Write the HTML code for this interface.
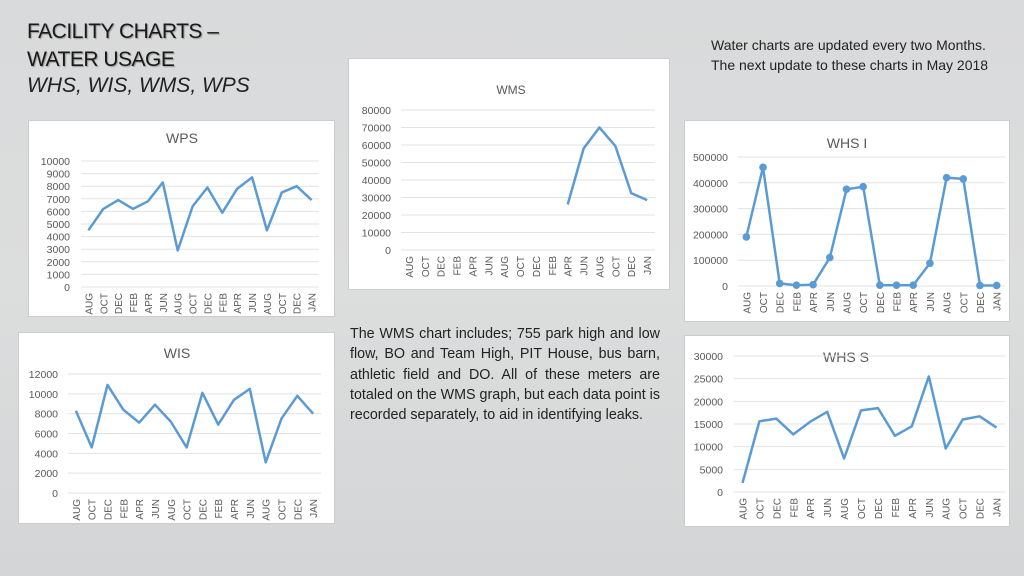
<!DOCTYPE html>
<html><head><meta charset="utf-8">
<style>
body{margin:0;width:1024px;height:576px;overflow:hidden;background:linear-gradient(180deg,#d9dadb 0%,#dcdddd 50%,#d4d5d6 100%);font-family:"Liberation Sans",sans-serif;position:relative}
.t{position:absolute;color:#222}
.panel{position:absolute;background:#fff;border:1px solid #ccc}
svg text{font-family:"Liberation Sans",sans-serif}
</style></head><body>
<div class="t" style="left:27px;top:18px;font-size:21px;line-height:28px;color:#1a1a1a;text-shadow:1px 1px 1px #999;letter-spacing:-0.5px">FACILITY CHARTS –<br>WATER USAGE</div>
<div class="t" style="left:27px;top:74px;font-size:21px;font-style:italic;color:#222">WHS, WIS, WMS, WPS</div>
<div class="t" style="left:711px;top:35px;font-size:14px;line-height:20px;width:300px">Water charts are updated every two Months. The next update to these charts in May 2018</div>
<div class="t" style="left:350px;top:324px;width:310px;font-size:14.3px;line-height:20.3px;text-align:justify">The WMS chart includes; 755 park high and low flow, BO and Team High, PIT House, bus barn, athletic field and DO. All of these meters are totaled on the WMS graph, but each data point is recorded separately, to aid in identifying leaks.</div>
<div id="charts"></div>
<script>
const categories=["AUG","OCT","DEC","FEB","APR","JUN","AUG","OCT","DEC","FEB","APR","JUN","AUG","OCT","DEC","JAN"];
const wpsValues=[4500,6200,6900,6200,6800,8300,2900,6400,7900,5900,7800,8700,4500,7500,8000,6900];
const wmsValues=[null,null,null,null,null,null,null,null,null,null,26000,58000,70000,59500,32500,28500];
const whsIValues=[190000,460000,10000,3000,5000,110000,375000,385000,3000,3000,3000,88000,420000,415000,2000,2000];
const wisValues=[8300,4600,10900,8400,7100,8900,7200,4600,10100,6900,9400,10500,3100,7500,9800,8000];
const whsSValues=[2000,15600,16200,12700,15500,17700,7400,18000,18500,12400,14500,25500,9600,16000,16700,14200];
const wpsTicks=[0,1000,2000,3000,4000,5000,6000,7000,8000,9000,10000];
const wmsTicks=[0,10000,20000,30000,40000,50000,60000,70000,80000];
const whsITicks=[0,100000,200000,300000,400000,500000];
const wisTicks=[0,2000,4000,6000,8000,10000,12000];
const whsSTicks=[0,5000,10000,15000,20000,25000,30000];

const NS="http://www.w3.org/2000/svg";
function mk(tag,attrs,parent){const e=document.createElementNS(NS,tag);for(const k in attrs)e.setAttribute(k,attrs[k]);parent.appendChild(e);return e;}
function chart(c){
  const div=document.createElement('div');
  div.className='panel';
  
  
  div.style.left=c.px+'px';div.style.top=c.py+'px';div.style.width=c.pw+'px';div.style.height=c.ph+'px';
  document.getElementById('charts').appendChild(div);
  const svg=mk('svg',{width:c.pw,height:c.ph},div);
  const ox=c.px,oy=c.py;
  const yMax=c.ticks[c.ticks.length-1];
  const y=v=>c.y0-(v/yMax)*(c.y0-c.yTop)-oy;
  const w=(c.x1-c.x0)/categories.length;
  const x=i=>c.x0+w*(i+0.5)-ox;
  const t=mk('text',{x:c.tx-ox,y:c.ty-oy,'text-anchor':'middle','font-size':c.tfs||14,fill:'#595959'},svg);
  t.textContent=c.title;
  
  
  c.ticks.forEach(v=>{
    const g=mk('line',{x1:c.x0-ox,x2:c.x1-ox,y1:y(v),y2:y(v),stroke:'#e3e3e3','stroke-width':1},svg);
    
    
    const l=mk('text',{x:c.lx-ox,y:y(v)+4,'text-anchor':'end','font-size':10.5,fill:'#595959'},svg);
    l.textContent=v;
    
    
  });
  categories.forEach((cat,i)=>{
    const xx=x(i)+4,yy=y(0)+6;
    const l=mk('text',{x:xx,y:yy,transform:'rotate(-90 '+xx+' '+yy+')','text-anchor':'end','font-size':10,fill:'#595959'},svg);
    l.textContent=cat;
    
    
  });
  let d='';let started=false;
  c.values.forEach((v,i)=>{if(v==null){started=false;return;}d+=(started?'L':'M')+x(i).toFixed(1)+' '+y(v).toFixed(1);started=true;});
  const p=mk('path',{d:d,fill:'none',stroke:'#5b9bd5','stroke-width':2.5,'stroke-linejoin':'round'},svg);
  
  
  if(c.markers){c.values.forEach((v,i)=>{if(v==null)return;
    const m=mk('circle',{cx:x(i),cy:y(v),r:3.8,fill:'#5b9bd5'},svg);
    
    });}
}
chart({name:'wps',title:'WPS',values:wpsValues,ticks:wpsTicks,px:28,py:120,pw:305,ph:195,x0:80,x1:318,y0:286,yTop:160,lx:69,tx:181,ty:142});
chart({name:'wms',title:'WMS',values:wmsValues,ticks:wmsTicks,px:348,py:58,pw:320,ph:230,x0:400,x1:654,y0:249,yTop:109,lx:390,tx:510,ty:93,tfs:12});
chart({name:'whs-i',title:'WHS I',values:whsIValues,ticks:whsITicks,px:684,py:120,pw:324,ph:200,x0:737,x1:1004,y0:285,yTop:156,lx:727,tx:846,ty:147,markers:true});
chart({name:'wis',title:'WIS',values:wisValues,ticks:wisTicks,px:18,py:332,pw:315,ph:190,x0:67,x1:320,y0:492,yTop:373,lx:57,tx:176,ty:357});
chart({name:'whs-s',title:'WHS S',values:whsSValues,ticks:whsSTicks,px:684,py:335,pw:324,ph:190,x0:733,x1:1004,y0:491,yTop:355,lx:722,tx:845,ty:361});
</script>
</body></html>
